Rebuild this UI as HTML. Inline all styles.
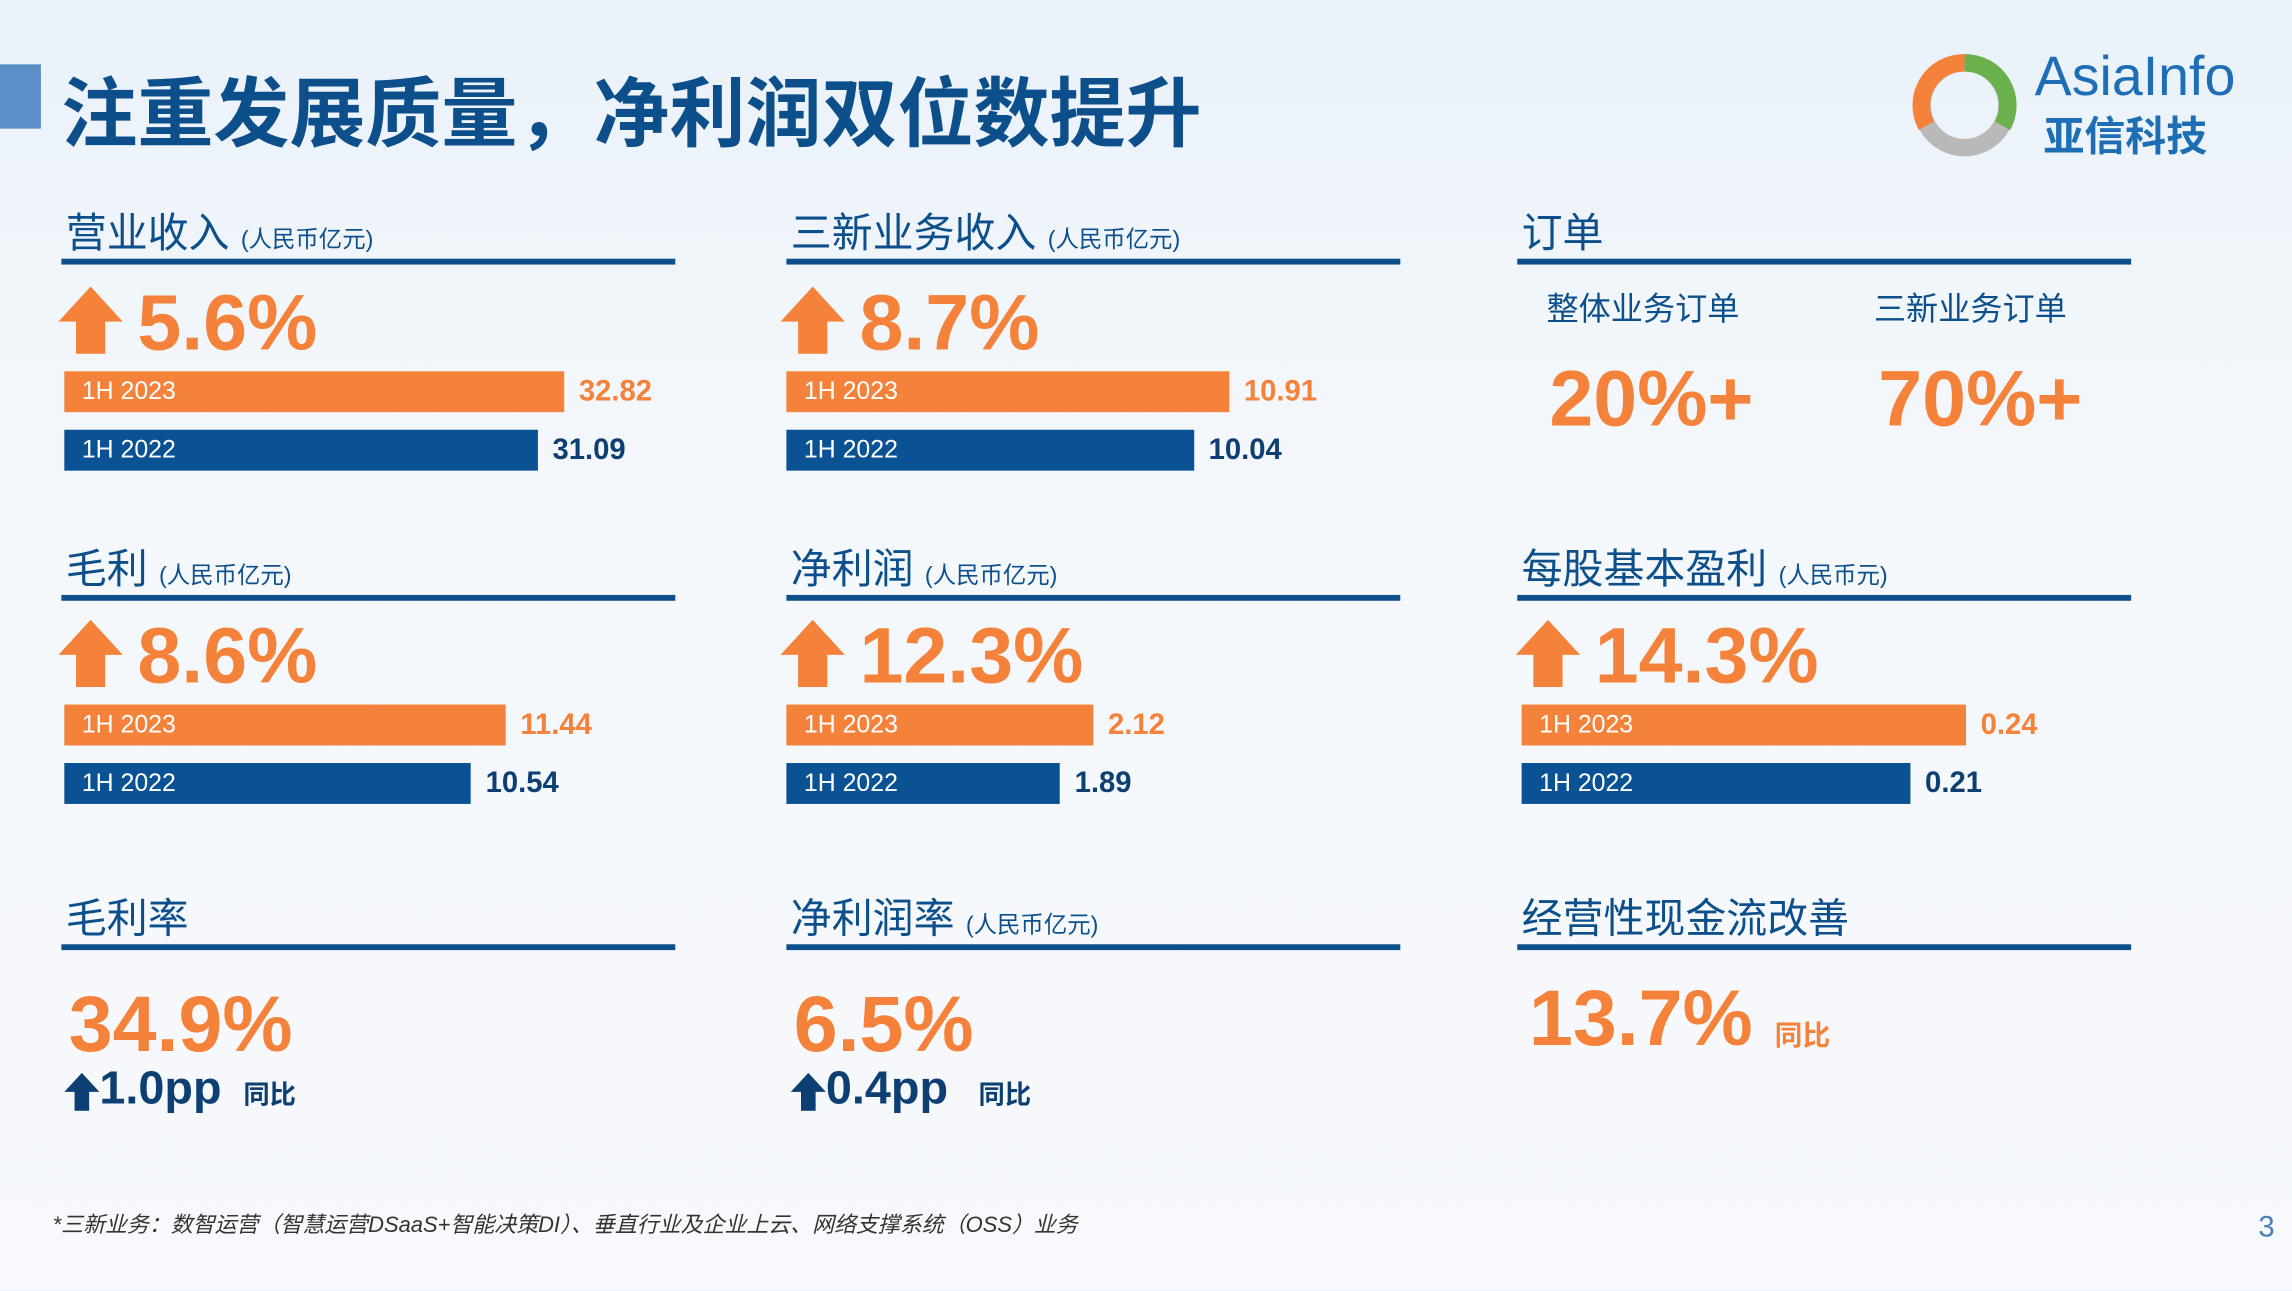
<!DOCTYPE html>
<html><head><meta charset="utf-8"><style>
html,body{margin:0;padding:0;width:2292px;height:1290px;overflow:hidden;}
body{background:linear-gradient(180deg,#e9f1f9 0%,#f3f7fb 30%,#f7f9fc 100%);font-family:"Liberation Sans","Noto Sans CJK SC",sans-serif;}
#s{position:absolute;left:0;top:0;width:1568px;height:883px;transform:scale(1.4617);transform-origin:0 0;}
.a{position:absolute;white-space:nowrap;}
.hd{font-size:28px;color:#0d4f8b;}
.hd small{font-size:16px;}
.ln{position:absolute;height:4px;background:#0d4f8b;width:420px;}
.pct{font-size:54px;font-weight:bold;color:#f5823a;line-height:1;}
.bar{position:absolute;height:28px;color:#fff;font-size:17px;line-height:28px;box-sizing:border-box;padding-left:12px;}
.o{background:#f5823a;}.b{background:#0a5294;}
.v{position:absolute;font-size:20px;font-weight:bold;line-height:28px;}
.vo{color:#f5823a}.vb{color:#0d3f73}
</style></head><body>
<div id="s">
<div class="a" style="left:0;top:44px;width:28px;height:44px;background:#5b8fc7"></div>
<div class="a" style="left:42px;top:36px;font-size:52px;font-weight:bold;color:#0d4f8b;letter-spacing:0px">注重发展质量，净利润双位数提升</div>
<svg class="a" style="left:1306px;top:34px" width="76" height="76" viewBox="0 0 76 76">
<circle cx="38" cy="38" r="29" fill="none" stroke="#b9b9b9" stroke-width="12"/>
<path d="M38 9 A29 29 0 0 1 64 52" fill="none" stroke="#6ab04c" stroke-width="12"/>
<path d="M38 9 A29 29 0 0 0 12 52" fill="none" stroke="#f5823a" stroke-width="12"/>
</svg>
<div class="a" style="left:1392px;top:32px;font-size:38px;color:#1e6eb5">AsiaInfo</div>
<div class="a" style="left:1398px;top:72px;font-size:28px;color:#1e6eb5;font-weight:bold">亚信科技</div>

<div class="a hd" style="left:45px;top:138px">营业收入 <small>(人民币亿元)</small></div>
<div class="ln" style="left:42px;top:177px"></div>
<div class="a hd" style="left:541px;top:138px">三新业务收入 <small>(人民币亿元)</small></div>
<div class="ln" style="left:538px;top:177px"></div>
<div class="a hd" style="left:1041px;top:138px">订单</div>
<div class="ln" style="left:1038px;top:177px"></div>

<div class="a hd" style="left:45px;top:368px">毛利 <small>(人民币亿元)</small></div>
<div class="ln" style="left:42px;top:407px"></div>
<div class="a hd" style="left:541px;top:368px">净利润 <small>(人民币亿元)</small></div>
<div class="ln" style="left:538px;top:407px"></div>
<div class="a hd" style="left:1041px;top:368px">每股基本盈利 <small>(人民币元)</small></div>
<div class="ln" style="left:1038px;top:407px"></div>

<div class="a hd" style="left:45px;top:607px">毛利率</div>
<div class="ln" style="left:42px;top:646px"></div>
<div class="a hd" style="left:541px;top:607px">净利润率 <small>(人民币亿元)</small></div>
<div class="ln" style="left:538px;top:646px"></div>
<div class="a hd" style="left:1041px;top:607px">经营性现金流改善</div>
<div class="ln" style="left:1038px;top:646px"></div>

<div class="a" style="left:1058px;top:194px;font-size:22px;color:#0d4f8b">整体业务订单</div>
<div class="a" style="left:1282px;top:194px;font-size:22px;color:#0d4f8b">三新业务订单</div>
<div class="a pct" style="left:1060px;top:246px">20%+</div>
<div class="a pct" style="left:1285px;top:246px">70%+</div>

<div class="a pct" style="left:47px;top:674px">34.9%</div>
<svg class="a" style="left:44px;top:734px" width="24" height="26" viewBox="0 0 24 26"><polygon points="12,0 24,13 17,13 17,26 7,26 7,13 0,13" fill="#0d3f73"/></svg>
<div class="a" style="left:68px;top:726px;font-size:32px;font-weight:bold;color:#0d3f73">1.0pp <span style="font-size:18px;margin-left:6px">同比</span></div>
<div class="a pct" style="left:543px;top:674px">6.5%</div>
<svg class="a" style="left:541px;top:734px" width="24" height="26" viewBox="0 0 24 26"><polygon points="12,0 24,13 17,13 17,26 7,26 7,13 0,13" fill="#0d3f73"/></svg>
<div class="a" style="left:565px;top:726px;font-size:32px;font-weight:bold;color:#0d3f73">0.4pp <span style="font-size:18px;margin-left:12px">同比</span></div>
<div class="a pct" style="left:1046px;top:670px">13.7% <span style="font-size:19px;color:#f5823a">同比</span></div>

<div class="a" style="left:36px;top:827px;font-size:15px;font-style:italic;color:#333">*三新业务：数智运营（智慧运营DSaaS+智能决策DI）、垂直行业及企业上云、网络支撑系统（OSS）业务</div>
<div class="a" style="left:1545px;top:829px;font-size:20px;color:#4a7fb5">3</div>
</div>
<script>
const panelNames = ['revenue','new-business-revenue','gross-profit','net-profit','eps'];
const growth = ['5.6%','8.7%','8.6%','12.3%','14.3%'];
const values2023 = [32.82, 10.91, 11.44, 2.12, 0.24];
const values2022 = [31.09, 10.04, 10.54, 1.89, 0.21];
const labels2023 = ['32.82','10.91','11.44','2.12','0.24'];
const labels2022 = ['31.09','10.04','10.54','1.89','0.21'];
const layout = [
 {x:44,y:196,w:342},{x:538,y:196,w:303},{x:44,y:424,w:302},{x:538,y:424,w:210},{x:1041,y:424,w:304}
];
const root=document.getElementById('s');
function mk(cls,style,txt){const d=document.createElement('div');d.className=cls;d.style.cssText=style;if(txt!=null)d.textContent=txt;root.appendChild(d);return d;}
panelNames.forEach((n,i)=>{
 const L=layout[i];
 const mx=Math.max(values2023[i],values2022[i]);
 const sx=v=>v/mx*L.w;
 const ar=document.createElementNS('http://www.w3.org/2000/svg','svg');
 ar.setAttribute('width','44');ar.setAttribute('height','48');ar.setAttribute('viewBox','0 0 44 48');
 ar.style.cssText=`position:absolute;left:${L.x-4}px;top:${L.y}px`;
 ar.innerHTML='<polygon points="22,0 44,24 32,24 32,46 12,46 12,24 0,24" fill="#f5823a"/>';
 
 
 root.appendChild(ar);
 const p=mk('a pct',`left:${L.x+50}px;top:${L.y-2}px`,growth[i]);
 
 
 const by=L.y+58;
 const b1=mk('bar o',`left:${L.x}px;top:${by}px;width:${sx(values2023[i])}px`,'1H 2023');
 
 
 const v1=mk('v vo',`left:${L.x+sx(values2023[i])+10}px;top:${by}px`,labels2023[i]);
 
 
 const b2=mk('bar b',`left:${L.x}px;top:${by+40}px;width:${sx(values2022[i])}px`,'1H 2022');
 
 
 const v2=mk('v vb',`left:${L.x+sx(values2022[i])+10}px;top:${by+40}px`,labels2022[i]);
 
 
});
</script>
</body></html>
